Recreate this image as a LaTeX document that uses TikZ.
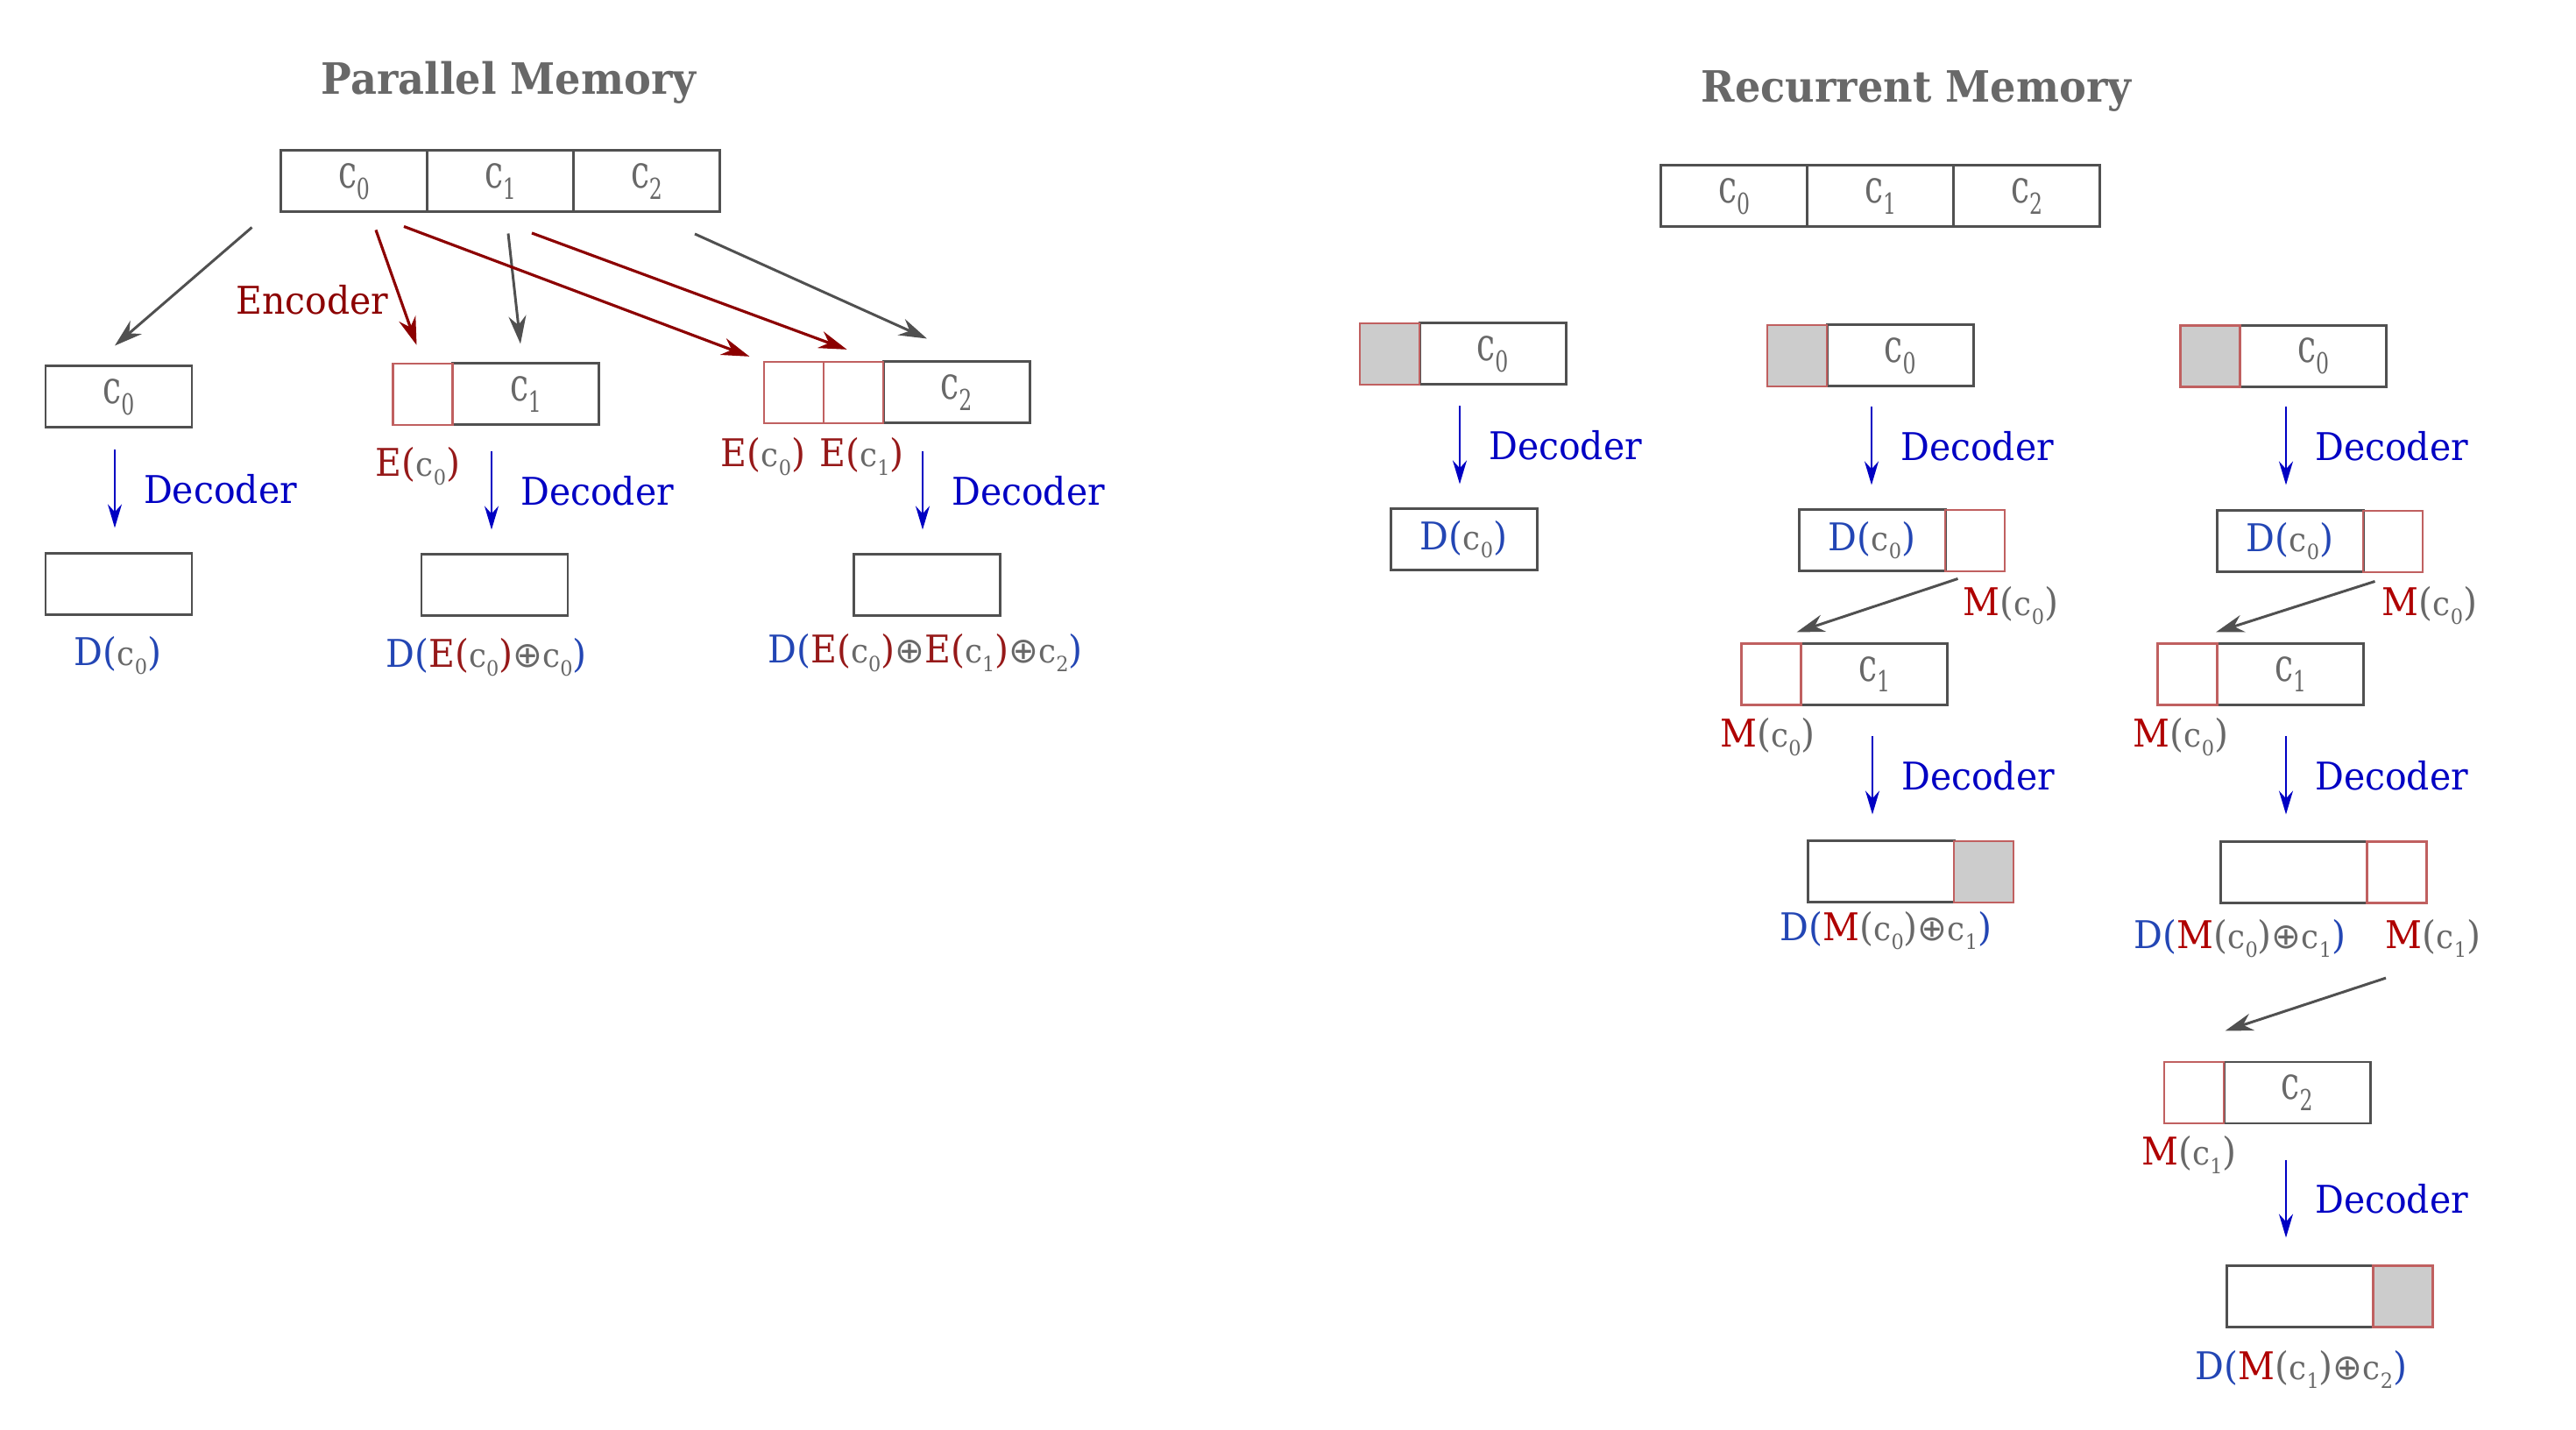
\documentclass[tikz,border=0pt]{standalone}
\usepackage{fontspec}
\setmainfont{DejaVu Serif}[FakeStretch=0.94]
\newfontfamily\opfont{DejaVu Sans}
\usetikzlibrary{arrows.meta}
\definecolor{boxgray}{RGB}{80,80,80}
\definecolor{cellred}{RGB}{192,96,96}
\definecolor{txtgray}{RGB}{104,104,104}
\definecolor{encred}{RGB}{140,0,0}
\definecolor{ered}{RGB}{150,25,25}
\definecolor{decblue}{RGB}{0,0,195}
\definecolor{dblue}{RGB}{35,70,180}
\definecolor{mred}{RGB}{175,0,0}
\definecolor{fillgray}{RGB}{204,204,204}
\newcommand{\cc}[1]{\textcolor{txtgray}{{\fontsize{10.8}{12}\selectfont c}\raisebox{-2.6pt}{\fontsize{6.8}{8}\selectfont #1}}}
\newcommand{\cbig}[1]{\scalebox{1.05}[1.38]{\cc{#1}}}
\newcommand{\Ec}[1]{\textcolor{ered}{E(}\cc{#1}\textcolor{ered}{)}}
\newcommand{\Mc}[1]{\textcolor{mred}{M}\textcolor{txtgray}{(}\cc{#1}\textcolor{txtgray}{)}}
\newcommand{\Dl}[1]{\textcolor{dblue}{D(}#1\textcolor{dblue}{)}}
\newcommand{\op}{\textcolor{txtgray}{\opfont\fontsize{11.5}{13}\selectfont ⊕}}
\begin{document}
\begin{tikzpicture}[>={Stealth[length=3.2mm,width=2mm]}]
\useasboundingbox (0,0) rectangle (29.4,-16.32);
\tikzstyle{every node}=[inner sep=0pt,font=\fontsize{12.4}{15}\selectfont]
\tikzstyle{cell}=[draw=boxgray,line width=0.85pt,minimum width=1.67cm,minimum height=0.7cm,text=txtgray,fill=white]
\tikzstyle{mcell}=[draw=cellred,line width=0.65pt,minimum width=0.68cm,minimum height=0.7cm]
\tikzstyle{gcell}=[mcell,fill=fillgray]
\tikzstyle{title}=[font=\fontsize{14}{17}\selectfont\bfseries,text=txtgray,anchor=base]
\tikzstyle{lbl}=[anchor=base]
\tikzstyle{dec}=[->,>={Stealth[length=2.7mm,width=1.6mm]},decblue,line width=0.65pt]
\tikzstyle{declbl}=[text=decblue,anchor=base west,pos=0.685,xshift=3.2mm]
\tikzstyle{flow}=[->,boxgray,line width=0.85pt]
\tikzstyle{encflow}=[->,encred,line width=0.9pt]
% parallel memory
\node[title](ptitle) at (5.805,-1.08) {Parallel Memory};
\node[cell](t0) at (4.04,-2.07) {\cbig{0}};
\node[cell](t1) at (5.71,-2.07) {\cbig{1}};
\node[cell](t2) at (7.38,-2.07) {\cbig{2}};
\node[cell](p1in) at (1.355,-4.53) {\cbig{0}};
\node[cell](p1out) at (1.355,-6.665) {};
\node[lbl](p1lbl) at (1.345,-7.60) {\Dl{\cc{0}}};
\node[cell](p2in) at (6.00,-4.50) {\cbig{1}};
\node[mcell](p2e0) at (4.825,-4.50) {};
\node[cell](p2out) at (5.645,-6.68) {};
\node[lbl](p2e0lbl) at (4.77,-5.44) {\Ec{0}};
\node[lbl](p2lbl) at (5.55,-7.62) {\Dl{\Ec{0}\op\cc{0}}};
\node[cell](p3in) at (10.915,-4.48) {\cbig{2}};
\node[mcell](p3e1) at (9.74,-4.48) {};
\node[mcell](p3e0) at (9.06,-4.48) {};
\node[cell](p3out) at (10.575,-6.675) {};
\node[lbl](p3e0lbl) at (8.71,-5.33) {\Ec{0}};
\node[lbl](p3e1lbl) at (9.835,-5.33) {\Ec{1}};
\node[lbl](p3lbl) at (10.56,-7.57) {\Dl{\Ec{0}\op\Ec{1}\op\cc{2}}};
\node[lbl,text=encred](enc) at (3.565,-3.59) {Encoder};
\draw[flow] ([shift={(-0.315,-0.16)}]t0.south west) -- ([shift={(-0.045,0.22)}]p1in.north);
\draw[encflow] ([shift={(0.25,-0.19)}]t0.south) -- ([shift={(-0.07,0.2)}]p2e0.north);
\draw[flow] ([shift={(0.09,-0.23)}]t1.south) -- ([shift={(-0.06,0.21)}]p2in.north);
\draw[encflow] ([shift={(0.57,-0.15)}]t0.south) -- ([shift={(-0.155,0.05)}]p3e0.north west);
\draw[encflow] ([shift={(0.36,-0.225)}]t1.south) -- ([shift={(-0.075,0.13)}]p3e1.north);
\draw[flow] ([shift={(0.55,-0.235)}]t2.south) -- ([shift={(-0.335,0.25)}]p3in.north);
\draw[dec] (p1out.north) ++(-0.045,1.165) -- ++(0,-0.89) node[declbl](p1dec) {Decoder};
\draw[dec] (p2out.north) ++(-0.035,1.16) -- ++(0,-0.89) node[declbl](p2dec) {Decoder};
\draw[dec] (p3out.north) ++(-0.045,1.155) -- ++(0,-0.89) node[declbl](p3dec) {Decoder};
% recurrent memory
\node[title](rtitle) at (21.87,-1.165) {Recurrent Memory};
\node[cell](s0) at (19.79,-2.24) {\cbig{0}};
\node[cell](s1) at (21.46,-2.24) {\cbig{1}};
\node[cell](s2) at (23.13,-2.24) {\cbig{2}};
\node[cell](r1in) at (17.035,-4.04) {\cbig{0}};
\node[gcell](r1m) at (15.86,-4.04) {};
\node[cell](r1out) at (16.705,-6.155) {\Dl{\cc{0}}};
\draw[dec] (r1out.north) ++(-0.045,1.155) -- ++(0,-0.89) node[declbl](r1dec) {Decoder};
\node[cell](r2in) at (21.685,-4.06) {\cbig{0}};
\node[gcell](r2m) at (20.51,-4.06) {};
\node[cell](r2d) at (21.365,-6.17) {\Dl{\cc{0}}};
\node[mcell](r2dm) at (22.54,-6.17) {};
\node[lbl](r2dml) at (22.95,-7.03) {\Mc{0}};
\node[cell](r2c1) at (21.39,-7.695) {\cbig{1}};
\node[mcell](r2c1m) at (20.215,-7.695) {};
\node[lbl](r2c1ml) at (20.175,-8.53) {\Mc{0}};
\node[cell](r2out) at (21.465,-9.95) {};
\node[gcell](r2outm) at (22.64,-9.95) {};
\node[lbl](r2lbl) at (21.525,-10.74) {\Dl{\Mc{0}\op\cc{1}}};
\draw[dec] (r2d.north) ++(-0.005,1.16) -- ++(0,-0.89) node[declbl](r2dec1) {Decoder};
\draw[flow] ([shift={(0.13,-0.07)}]r2d.south east) -- ([shift={(-0.035,0.115)}]r2c1.north west);
\draw[dec] (r2out.north) ++(-0.095,1.18) -- ++(0,-0.89) node[declbl](r2dec2) {Decoder};
\node[cell](r3in) at (26.40,-4.065) {\cbig{0}};
\node[gcell](r3m) at (25.225,-4.065) {};
\node[cell](r3d) at (26.135,-6.18) {\Dl{\cc{0}}};
\node[mcell](r3dm) at (27.31,-6.18) {};
\node[lbl](r3dml) at (27.73,-7.03) {\Mc{0}};
\node[cell](r3c1) at (26.14,-7.695) {\cbig{1}};
\node[mcell](r3c1m) at (24.965,-7.695) {};
\node[lbl](r3c1ml) at (24.89,-8.53) {\Mc{0}};
\node[cell](r3out) at (26.18,-9.955) {};
\node[mcell](r3outm) at (27.355,-9.955) {};
\node[lbl](r3lbl) at (25.565,-10.83) {\Dl{\Mc{0}\op\cc{1}}};
\node[lbl](r3outml) at (27.77,-10.83) {\Mc{1}};
\node[cell](r3c2) at (26.215,-12.47) {\cbig{2}};
\node[mcell](r3c2m) at (25.04,-12.47) {};
\node[lbl](r3c2ml) at (24.985,-13.30) {\Mc{1}};
\node[cell](r3out2) at (26.25,-14.795) {};
\node[gcell](r3out2m) at (27.425,-14.795) {};
\node[lbl](r3lbl2) at (26.265,-15.75) {\Dl{\Mc{1}\op\cc{2}}};
\draw[dec] (r3d.north) ++(-0.045,1.17) -- ++(0,-0.89) node[declbl](r3dec1) {Decoder};
\draw[flow] ([shift={(0.12,-0.09)}]r3d.south east) -- ([shift={(0,0.115)}]r3c1.north west);
\draw[dec] (r3out.north) ++(-0.09,1.185) -- ++(0,-0.89) node[declbl](r3dec2) {Decoder};
\draw[flow] ([shift={(-0.125,-0.845)}]r3outm.south) -- ([shift={(0.03,0.34)}]r3c2.north west);
\draw[dec] (r3out2.north) ++(-0.16,1.195) -- ++(0,-0.89) node[declbl](r3dec3) {Decoder};
\end{tikzpicture}
\end{document}
